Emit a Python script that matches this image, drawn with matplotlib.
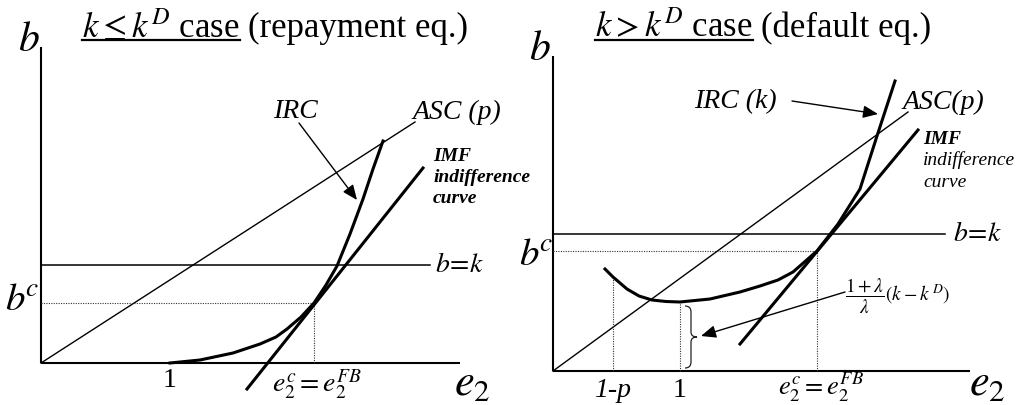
import matplotlib
matplotlib.use("Agg")
import matplotlib.pyplot as plt
from matplotlib.lines import Line2D
from matplotlib.path import Path
import matplotlib.patches as mpatches

plt.rcParams["font.family"] = ["Liberation Serif", "DejaVu Serif"]
plt.rcParams["mathtext.fontset"] = "stix"

# ---------------- left panel: repayment equilibrium ----------------
left_axis_len = (419, 316)                 # e2 axis, b axis
left_asc_e2 = [0, 374]
left_asc_b = [0, 241]
left_irc_e2 = [129, 159, 192, 219, 235, 246, 260, 273, 285, 296, 309, 322, 332, 342]
left_irc_b = [0, 3, 10, 19, 26, 34, 46, 60, 78, 97, 129, 164, 194, 222]
left_imf_e2 = [206, 382]
left_imf_b = [-26, 195]
left_k = 98
left_k_end = 389
left_bc = 60
left_ec = 273
left_one = 129

# ---------------- right panel: default equilibrium ----------------
right_axis_len = (417, 315)
right_asc_e2 = [0, 355]
right_asc_b = [0, 259]
right_irc_e2 = [52, 60, 74, 86, 99, 113, 127, 157, 187, 207, 225, 240, 264, 285, 307, 324, 342]
right_irc_b = [102, 94, 82, 75, 71, 69.5, 69, 72, 79, 85, 91, 99, 120, 147, 182, 235, 290]
right_imf_e2 = [187, 365]
right_imf_b = [27, 241]
right_k = 137
right_k_end = 392
right_bc = 120
right_ec = 264
right_one = 127
right_one_b = 69
right_1mp = 60
right_1mp_b = 94
brace_lo, brace_hi = 3, 65

W, H = 1021, 406
fig = plt.figure(figsize=(W / 100, H / 100), dpi=100)
fig.patch.set_facecolor("white")

axL = fig.add_axes([0, 0, 510 / W, 1])
axL.set_xlim(-41, 469)
axL.set_ylim(-42, 364)
axR = fig.add_axes([510 / W, 0, 511 / W, 1])
axR.set_xlim(-43, 468)
axR.set_ylim(-34, 372)
for ax in (axL, axR):
    ax.axis("off")

AX_LW = 1.5
THIN = 1.0
THICK = 2.2
DOT = dict(color="#333333", lw=0.8, ls=(0, (1, 1.2)), clip_on=False)


def draw_axes(ax, lens):
    ax.plot([0, lens[0]], [0, 0], color="k", lw=AX_LW, clip_on=False, solid_capstyle="butt")
    ax.plot([0, 0], [0, lens[1]], color="k", lw=AX_LW, clip_on=False, solid_capstyle="butt")


def arrow(ax, start, end):
    ax.annotate("", xy=end, xytext=start,
                arrowprops=dict(arrowstyle="-|>,head_length=0.9,head_width=0.38",
                                color="k", lw=1.0, shrinkA=0, shrinkB=0),
                annotation_clip=False)


# ---- left panel drawing ----
draw_axes(axL, left_axis_len)
axL.plot(left_asc_e2, left_asc_b, color="k", lw=THIN, clip_on=False)
axL.plot([0, left_k_end], [left_k, left_k], color="k", lw=1.1, clip_on=False)
axL.plot([0, left_ec], [left_bc, left_bc], **DOT)
axL.plot([left_ec, left_ec], [0, left_bc], **DOT)
axL.plot(left_imf_e2, left_imf_b, color="k", lw=THICK, clip_on=False)
axL.plot(left_irc_e2, left_irc_b, color="k", lw=THICK, clip_on=False,
         solid_joinstyle="round")
arrow(axL, (258, 240), (316, 163))

axL.text(-12, 313, r"$b$", fontsize=30, ha="center", va="baseline")
axL.text(-19, 54, r"$b^{\!c}$", fontsize=28, ha="center", va="baseline")
axL.text(left_k_end + 5, left_k, r"$b\!=\!k$", fontsize=20, ha="left", va="center")
axL.text(left_one, -23, "1", fontsize=20, ha="center", va="baseline")
axL.text(left_ec + 3, -28, r"$e_2^c = e_2^{FB}$", fontsize=20, ha="center", va="baseline")
axL.text(431, -31, r"$e_2$", fontsize=32, ha="center", va="baseline")
axL.text(254, 252, "IRC", fontsize=20, style="italic", ha="center", va="center")
axL.text(372, 252, "ASC (p)", fontsize=20, style="italic", ha="left", va="center")
for txt, yy in (("IMF", 207), ("indifference", 186), ("curve", 165)):
    axL.text(392, yy, txt, fontsize=14, style="italic", weight="bold",
             ha="left", va="center", clip_on=False)

# ---- right panel drawing ----
draw_axes(axR, right_axis_len)
axR.plot(right_asc_e2, right_asc_b, color="k", lw=THIN, clip_on=False)
axR.plot([0, right_k_end], [right_k, right_k], color="k", lw=1.1, clip_on=False)
axR.plot([0, right_ec], [right_bc, right_bc], **DOT)
axR.plot([right_ec, right_ec], [0, right_bc], **DOT)
axR.plot([right_1mp, right_1mp], [0, right_1mp_b], **DOT)
axR.plot([right_one, right_one], [0, right_one_b], **DOT)
axR.plot(right_imf_e2, right_imf_b, color="k", lw=THICK, clip_on=False)
axR.plot(right_irc_e2, right_irc_b, color="k", lw=THICK, clip_on=False,
         solid_joinstyle="round")

# curly brace marking the gap below the IRC minimum
bx0, bxm, bxt = right_one + 5, right_one + 11, right_one + 17
bmid = (brace_lo + brace_hi) / 2
verts = [(bx0, brace_hi), (bxm, brace_hi), (bxm, brace_hi - 6), (bxm, bmid + 5),
         (bxm, bmid), (bxt, bmid), (bxm, bmid), (bxm, bmid - 5),
         (bxm, brace_lo + 6), (bxm, brace_lo), (bx0, brace_lo)]
codes = [Path.MOVETO, Path.CURVE3, Path.CURVE3, Path.LINETO,
         Path.CURVE3, Path.CURVE3, Path.CURVE3, Path.CURVE3,
         Path.LINETO, Path.CURVE3, Path.CURVE3]
axR.add_patch(mpatches.PathPatch(Path(verts, codes), facecolor="none",
                                 edgecolor="#222222", lw=0.9, clip_on=False))

arrow(axR, (292, 79), (148, 35))
arrow(axR, (239, 270), (325, 257))

axR.text(-13, 312, r"$b$", fontsize=30, ha="center", va="baseline")
axR.text(-17, 107, r"$b^{\!c}$", fontsize=28, ha="center", va="baseline")
axR.text(right_k_end + 8, right_k, r"$b\!=\!k$", fontsize=20, ha="left", va="center")
axR.text(right_1mp, -25, "1-p", fontsize=20, style="italic", ha="center", va="baseline")
axR.text(right_one, -25, "1", fontsize=20, ha="center", va="baseline")
axR.text(right_ec + 4, -23, r"$e_2^c = e_2^{FB}$", fontsize=19, ha="center", va="baseline")
axR.text(434, -23, r"$e_2$", fontsize=32, ha="center", va="baseline")
axR.text(182, 270, "IRC (k)", fontsize=20, style="italic", ha="center", va="center")
axR.text(350, 270, "ASC(p)", fontsize=20, style="italic", ha="left", va="center")
axR.text(370, 233, "IMF", fontsize=14, style="italic", weight="bold",
         ha="left", va="center", clip_on=False)
for txt, yy in (("indifference", 212), ("curve", 189)):
    axR.text(370, yy, txt, fontsize=14, style="italic", ha="left", va="center",
             clip_on=False)
axR.text(292, 76, r"$\dfrac{1+\lambda}{\lambda}\left(k-k^{\,D}\right)$", fontsize=14,
         ha="left", va="center")

# ---- underlined titles ----
renderer = fig.canvas.get_renderer()


def titled(x_px, base_px, underlined, rest, size=25):
    t1 = fig.text(x_px / W, 1 - base_px / H, underlined, fontsize=size,
                  ha="left", va="baseline")
    bb = t1.get_window_extent(renderer)
    y_ul = 1 - (base_px + 4) / H
    fig.add_artist(Line2D([bb.x0 / W, bb.x1 / W], [y_ul, y_ul],
                          transform=fig.transFigure, color="k", lw=1.6))
    fig.text((bb.x1 + 8) / W, 1 - base_px / H, rest, fontsize=size,
             ha="left", va="baseline")


titled(82, 37, r"$k\leq k^{D}$ case", "(repayment eq.)")
titled(595, 37, r"$k > k^{D}$ case", "(default eq.)")

fig.savefig("out.png", dpi=100)
